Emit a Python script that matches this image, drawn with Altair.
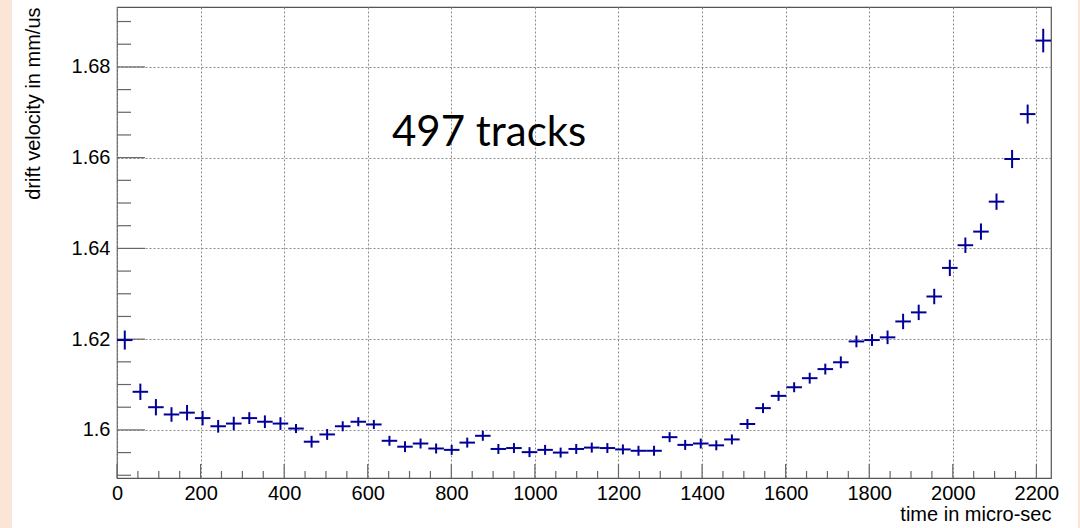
import altair as alt
import pandas as pd

# Drift velocity per time bin (bin centres in micro-seconds)
time_us = [18.6, 55.9, 93.1, 130.4, 167.6, 204.9, 242.1, 279.4, 316.6, 353.9,
           391.1, 428.4, 465.6, 502.9, 540.1, 577.4, 614.6, 651.9, 689.1, 726.4,
           763.6, 800.9, 838.1, 875.4, 912.6, 949.9, 987.1, 1024.4, 1061.6, 1098.9,
           1136.1, 1173.4, 1210.6, 1247.9, 1285.1, 1322.4, 1359.6, 1396.9, 1434.1, 1471.4,
           1508.6, 1545.9, 1583.1, 1620.4, 1657.6, 1694.9, 1732.1, 1769.4, 1806.6, 1843.9,
           1881.1, 1918.4, 1955.6, 1992.9, 2030.1, 2067.4, 2104.6, 2141.9, 2179.1, 2216.4]
velocity = [1.6198, 1.6084, 1.6050, 1.6034, 1.6038, 1.6026, 1.6008, 1.6014, 1.6026, 1.6018,
            1.6014, 1.6003, 1.5974, 1.5990, 1.6008, 1.6018, 1.6012, 1.5976, 1.5963, 1.5970,
            1.5959, 1.5956, 1.5972, 1.5987, 1.5958, 1.5960, 1.5951, 1.5956, 1.5950, 1.5958,
            1.5961, 1.5960, 1.5957, 1.5954, 1.5954, 1.5984, 1.5967, 1.5970, 1.5966, 1.5979,
            1.6013, 1.6048, 1.6075, 1.6094, 1.6114, 1.6134, 1.6149, 1.6195, 1.6198, 1.6204,
            1.6239, 1.6259, 1.6294, 1.6357, 1.6407, 1.6437, 1.6503, 1.6597, 1.6696, 1.6858]
velocity_err = [0.0021, 0.0018, 0.0018, 0.0016, 0.0017, 0.0016, 0.0014, 0.0015, 0.0013, 0.0014,
                0.0014, 0.0010, 0.0013, 0.0012, 0.0011, 0.0010, 0.0010, 0.0011, 0.0012, 0.0011,
                0.0011, 0.0011, 0.0011, 0.0011, 0.0011, 0.0011, 0.0011, 0.0011, 0.0011, 0.0011,
                0.0011, 0.0011, 0.0011, 0.0011, 0.0011, 0.0011, 0.0011, 0.0011, 0.0011, 0.0011,
                0.0011, 0.0011, 0.0011, 0.0011, 0.0012, 0.0012, 0.0013, 0.0013, 0.0013, 0.0015,
                0.0017, 0.0017, 0.0017, 0.0018, 0.0017, 0.0018, 0.0018, 0.0020, 0.0021, 0.0026]
half_bin = 18.6

x_major = [0, 200, 400, 600, 800, 1000, 1200, 1400, 1600, 1800, 2000, 2200]
x_minor = [50, 100, 150, 250, 300, 350, 450, 500, 550, 650, 700, 750, 850, 900, 950,
           1050, 1100, 1150, 1250, 1300, 1350, 1450, 1500, 1550, 1650, 1700, 1750,
           1850, 1900, 1950, 2050, 2100, 2150]
y_major = [1.60, 1.62, 1.64, 1.66, 1.68]
y_minor = [1.590, 1.595, 1.605, 1.610, 1.615, 1.625, 1.630, 1.635, 1.645, 1.650,
           1.655, 1.665, 1.670, 1.675, 1.685, 1.690]

note_text = ["497 tracks"]
note_x = [658]
note_y = [1.6625]

X_DOMAIN = [0, 2235]
Y_DOMAIN = [1.5894, 1.6932]
W, H = 934, 471
BLUE = "#000099"
FONT = "Liberation Sans"
SLIDE = "#FBE5D6"

df = pd.DataFrame({"t": time_us, "v": velocity, "e": velocity_err})
df["t_lo"] = df["t"] - half_bin
df["t_hi"] = df["t"] + half_bin
df["v_lo"] = df["v"] - df["e"]
df["v_hi"] = df["v"] + df["e"]

xs = alt.Scale(domain=X_DOMAIN, nice=False, zero=False)
ys = alt.Scale(domain=Y_DOMAIN, nice=False, zero=False)

x_axis = alt.Axis(values=x_major, format="d", grid=True, gridColor="#8a8a8a",
                  gridDash=[2, 2], gridWidth=1, ticks=False, domain=False,
                  labelFont=FONT, labelFontSize=20, labelColor="black", labelPadding=5,
                  labelFlush=False,
                  title="time in micro-sec", titleFont=FONT, titleFontSize=20,
                  titleFontWeight="normal", titleColor="black", titleAnchor="end",
                  titlePadding=1)
y_axis = alt.Axis(values=y_major, format=".2~f", grid=True, gridColor="#8a8a8a",
                  gridDash=[2, 2], gridWidth=1, ticks=False, domain=False,
                  labelFont=FONT, labelFontSize=20, labelColor="black", labelPadding=7,
                  labelFlush=False,
                  title="drift velocity in mm/us", titleFont=FONT, titleFontSize=20,
                  titleFontWeight="normal", titleColor="black", titleAnchor="end",
                  titlePadding=28)


def X(field):
    return alt.X(field, type="quantitative", scale=xs, axis=x_axis)


def Y(field):
    return alt.Y(field, type="quantitative", scale=ys, axis=y_axis)


base = alt.Chart(df)
hbar = base.mark_rule(color=BLUE, strokeWidth=2).encode(
    x=X("t_lo"), x2="t_hi", y=Y("v"),
)
vbar = base.mark_rule(color=BLUE, strokeWidth=2).encode(
    x=X("t"), y=Y("v_lo"), y2="v_hi",
)

# inward ticks on the bottom and left axes
def xticks(vals, length):
    return alt.Chart(pd.DataFrame({"tx": vals})).mark_rule(color="#666", strokeWidth=1.2).encode(
        x=X("tx"), y=alt.value(H), y2=alt.value(H - length))

def yticks(vals, length):
    return alt.Chart(pd.DataFrame({"ty": vals})).mark_rule(color="#666", strokeWidth=1.2).encode(
        y=Y("ty"), x=alt.value(0), x2=alt.value(length))

note = alt.Chart(pd.DataFrame({"txt": note_text, "nx": note_x, "ny": note_y})).mark_text(
    font="Lato", fontSize=42, align="left", baseline="alphabetic", color="black"
).encode(
    x=X("nx"), y=Y("ny"), text="txt:N",
)

# slide-coloured strips at the page's left and right edges
edge_left = alt.Chart(pd.DataFrame({"a": [0]})).mark_rect(color=SLIDE).encode(
    x=alt.value(-117), x2=alt.value(-105), y=alt.value(-7), y2=alt.value(521))
edge_right = alt.Chart(pd.DataFrame({"a": [0]})).mark_rect(color=SLIDE).encode(
    x=alt.value(961), x2=alt.value(963), y=alt.value(-7), y2=alt.value(521))

chart = alt.layer(
    xticks(x_major, 14), xticks(x_minor, 7),
    yticks(y_major, 28), yticks(y_minor, 14),
    hbar, vbar, note, edge_left, edge_right,
).properties(
    width=W, height=H,
    autosize=alt.AutoSizeParams(type="none"),
    padding={"left": 117, "top": 7, "right": 29, "bottom": 50},
    background="white",
).configure_view(stroke="#555", strokeWidth=1.2, fill=None)

chart.save("out.html", embed_options={"renderer": "svg", "actions": False})
